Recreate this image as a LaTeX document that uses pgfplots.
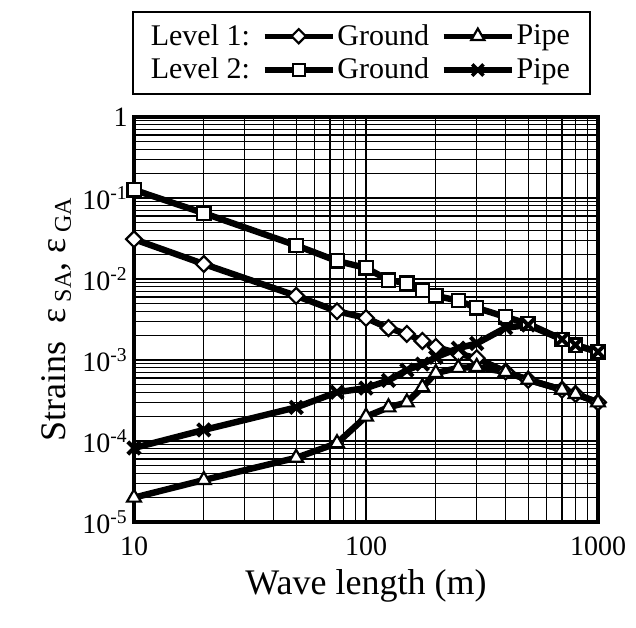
\documentclass[border=0pt]{standalone}
\usepackage{fontspec}
\setmainfont{Liberation Serif}
\usepackage{pgfplots}
\usepackage{pgfplotstable}
\pgfplotsset{compat=1.18}

% wave length, level 1 ground/pipe, level 2 ground/pipe
\pgfplotstableread{
lam   gA      pA      gB      pB
10    0.031   2.0e-5  0.126   8.2e-5
20    0.0153  3.3e-5  0.065   1.37e-4
50    0.0062  6.2e-5  0.026   2.6e-4
75    0.0040  9.4e-5  0.0167  4.0e-4
100   0.0033  2.0e-4  0.0137  4.5e-4
125   0.00248 2.6e-4  0.0097  5.6e-4
150   0.0021  3.0e-4  0.0089  7.5e-4
175   0.00172 4.6e-4  0.0073  8.9e-4
200   0.00145 6.9e-4  0.0062  1.08e-3
250   0.0012  8.0e-4  0.0054  1.4e-3
300   0.00105 8.2e-4  0.0044  1.6e-3
400   0.00072 7.1e-4  0.0034  2.5e-3
500   0.00057 5.7e-4  0.0028  2.7e-3
700   0.00043 4.3e-4  0.0018  1.8e-3
800   0.00038 3.8e-4  0.00153 1.53e-3
1000  0.00030 3.0e-4  0.00126 1.26e-3
}\strains

\tikzset{
  ser/.style={black, line width=3.2pt},
}

\begin{document}
\begin{tikzpicture}
\begin{loglogaxis}[
  scale only axis, width=232pt, height=202.5pt,
  xmin=10, xmax=1000, ymin=1e-5, ymax=1,
  xtick={10,100,1000}, xticklabels={10,100,1000},
  minor xtick={20,30,40,50,60,70,80,90,200,300,400,500,600,700,800,900},
  ytick={1e-5,1e-4,1e-3,1e-2,1e-1,1},
  yticklabels={10\textsuperscript{-5},10\textsuperscript{-4},10\textsuperscript{-3},10\textsuperscript{-2},10\textsuperscript{-1},1},
  minor ytick={2e-5,3e-5,4e-5,5e-5,6e-5,7e-5,8e-5,9e-5,
    2e-4,3e-4,4e-4,5e-4,6e-4,7e-4,8e-4,9e-4,
    2e-3,3e-3,4e-3,5e-3,6e-3,7e-3,8e-3,9e-3,
    0.02,0.03,0.04,0.05,0.06,0.07,0.08,0.09,
    0.2,0.3,0.4,0.5,0.6,0.7,0.8,0.9},
  grid=both,
  major grid style={black, line width=0.7pt},
  minor grid style={black, line width=0.6pt},
  axis line style={line width=1.6pt},
  major tick length=0pt, minor tick length=0pt,
  tick label style={font=\fontsize{14}{16}\selectfont},
  xticklabel style={yshift=-4pt},
  yticklabel style={xshift=-2pt, inner xsep=1pt},
  xlabel={Wave length (m)},
  ylabel={Strains\ \ ε\,\raisebox{-0.15em}{\fontsize{12}{13}\selectfont SA}, ε\,\raisebox{-0.15em}{\fontsize{12}{13}\selectfont GA}},
  label style={font=\fontsize{18}{20}\selectfont},
  xlabel style={yshift=0pt},
  ylabel style={yshift=1pt},
  legend columns=3,
  legend style={at={(0.49,1.055)}, anchor=south, draw=black, line width=0.8pt,
    font=\fontsize{15}{17}\selectfont, inner xsep=8pt, inner ysep=4pt,
    row sep=1pt,
    /tikz/every odd column/.append style={column sep=-1pt},
    /tikz/every even column/.append style={column sep=4pt}},
  legend cell align=left,
  legend image code/.code={
    \draw[mark repeat=2, mark phase=2, #1] plot coordinates {(0cm,0cm) (0.6cm,0cm) (1.2cm,0cm)};},
]
\addlegendimage{empty legend}
\addlegendentry{Level 1:\hspace{-7pt}}
\addlegendimage{ser, line width=2.6pt, mark=square*, mark size=2.5pt, mark options={fill=white, line width=1.1pt, rotate=45}}
\addlegendentry{Ground}
\addlegendimage{ser, line width=2.6pt, mark=triangle*, mark size=3.8pt, mark options={fill=white, line width=1.1pt}}
\addlegendentry{Pipe}
\addlegendimage{empty legend}
\addlegendentry{Level 2:\hspace{-7pt}}
\addlegendimage{ser, line width=2.6pt, mark=square*, mark size=3pt, mark options={fill=white, line width=1.1pt}}
\addlegendentry{Ground}
\addlegendimage{ser, line width=2.6pt, mark=x, mark size=4pt, mark options={line width=1.8pt}}
\addlegendentry{Pipe}

\addplot[ser, mark=square*, mark size=2.8pt, mark options={fill=white, line width=1.1pt, rotate=45}, forget plot] table[x=lam, y=gA] {\strains};
\addplot[ser, mark=square*, mark size=3.3pt, mark options={fill=white, line width=1.1pt}, forget plot] table[x=lam, y=gB] {\strains};
\addplot[ser, mark=x, mark size=4.4pt, mark options={line width=2pt}, forget plot] table[x=lam, y=pB] {\strains};
\addplot[ser, mark=triangle*, mark size=4pt, mark options={fill=white, line width=1.1pt}, forget plot] table[x=lam, y=pA] {\strains};
\end{loglogaxis}
\path (-67pt,-52.5pt) rectangle (251pt,261pt);
\end{tikzpicture}
\end{document}
